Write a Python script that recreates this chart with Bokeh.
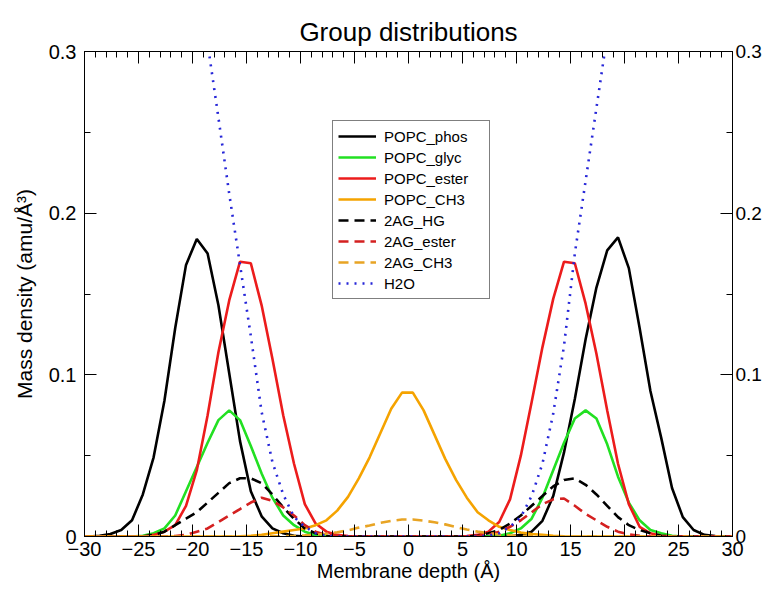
from bokeh.plotting import figure
from bokeh.models import LinearAxis, FixedTicker, Range1d, Legend, LegendItem
from bokeh.embed import file_html
from bokeh.resources import INLINE

# ---------------- data ----------------
depth = [-30.6, -29.6, -28.6, -27.6, -26.6, -25.6, -24.6, -23.6, -22.6, -21.6,
         -20.6, -19.6, -18.6, -17.6, -16.6, -15.6, -14.6, -13.6, -12.6, -11.6,
         -10.6, -9.6, -8.6, -7.6, -6.6, -5.6, -4.6, -3.6, -2.6, -1.6,
         -0.6, 0.4, 1.4, 2.4, 3.4, 4.4, 5.4, 6.4, 7.4, 8.4,
         9.4, 10.4, 11.4, 12.4, 13.4, 14.4, 15.4, 16.4, 17.4, 18.4,
         19.4, 20.4, 21.4, 22.4, 23.4, 24.4, 25.4, 26.4, 27.4, 28.4,
         29.4, 30.4]

popc_phos = [0, 0, 0.0005, 0.0015, 0.004, 0.010, 0.026, 0.049, 0.084, 0.129,
             0.168, 0.184, 0.175, 0.143, 0.101, 0.059, 0.028, 0.0125, 0.005, 0.002,
             0.0005, 0, 0, 0, 0, 0, 0, 0, 0, 0,
             0, 0, 0, 0, 0, 0, 0, 0, 0, 0,
             0, 0.001, 0.003, 0.0097, 0.025, 0.052, 0.085, 0.122, 0.154, 0.177,
             0.185, 0.166, 0.129, 0.090, 0.061, 0.030, 0.012, 0.004, 0.001, 0.0003,
             0, 0]

popc_glyc = [0, 0, 0, 0, 0, 0, 0.0005, 0.002, 0.005, 0.013,
             0.028, 0.043, 0.058, 0.072, 0.078, 0.072, 0.056, 0.039, 0.024, 0.013,
             0.007, 0.003, 0.001, 0.0003, 0, 0, 0, 0, 0, 0,
             0, 0, 0, 0, 0, 0, 0, 0, 0.0002, 0.0005,
             0.002, 0.005, 0.011, 0.024, 0.041, 0.058, 0.073, 0.078, 0.073, 0.057,
             0.037, 0.021, 0.010, 0.004, 0.002, 0.0005, 0, 0, 0, 0,
             0, 0]

popc_ester = [0, 0, 0, 0, 0, 0, 0, 0.001, 0.003, 0.007,
              0.019, 0.041, 0.075, 0.114, 0.146, 0.170, 0.169, 0.143, 0.110, 0.075,
              0.045, 0.020, 0.008, 0.003, 0.001, 0.0003, 0, 0, 0, 0,
              0, 0, 0, 0, 0, 0, 0.0003, 0.001, 0.003, 0.009,
              0.023, 0.050, 0.083, 0.117, 0.147, 0.170, 0.169, 0.144, 0.113, 0.078,
              0.045, 0.020, 0.006, 0.002, 0.0005, 0, 0, 0, 0, 0,
              0, 0]

popc_ch3 = [0, 0, 0, 0, 0, 0, 0, 0, 0, 0,
            0, 0, 0, 0, 0, 0.0002, 0.0005, 0.001, 0.002, 0.003,
            0.004, 0.005, 0.007, 0.010, 0.016, 0.0245, 0.036, 0.049, 0.064, 0.079,
            0.089, 0.089, 0.078, 0.063, 0.048, 0.035, 0.024, 0.015, 0.010, 0.006,
            0.004, 0.0025, 0.0015, 0.001, 0.0005, 0.0002, 0, 0, 0, 0,
            0, 0, 0, 0, 0, 0, 0, 0, 0, 0,
            0, 0]

ag_hg = [0, 0, 0, 0, 0, 0, 0, 0.001, 0.003, 0.007,
         0.011, 0.015, 0.021, 0.027, 0.033, 0.036, 0.036, 0.033, 0.026, 0.018,
         0.011, 0.005, 0.002, 0.0005, 0, 0, 0, 0, 0, 0,
         0, 0, 0, 0, 0, 0, 0, 0.0005, 0.002, 0.004,
         0.008, 0.013, 0.019, 0.025, 0.031, 0.035, 0.036, 0.032, 0.026, 0.019,
         0.012, 0.007, 0.004, 0.002, 0.0005, 0, 0, 0, 0, 0,
         0, 0]

ag_ester = [0, 0, 0, 0, 0, 0, 0, 0, 0, 0.0003,
            0.001, 0.003, 0.005, 0.009, 0.013, 0.017, 0.021, 0.024, 0.022, 0.018,
            0.013, 0.007, 0.003, 0.001, 0.0003, 0, 0, 0, 0, 0,
            0, 0, 0, 0, 0, 0, 0, 0.0003, 0.001, 0.003,
            0.006, 0.010, 0.015, 0.020, 0.023, 0.0235, 0.019, 0.014, 0.010, 0.006,
            0.003, 0.0013, 0.0004, 0, 0, 0, 0, 0, 0, 0,
            0, 0]

ag_ch3 = [0, 0, 0, 0, 0, 0, 0, 0, 0, 0,
          0, 0, 0, 0, 0, 0, 0, 0, 0.0001, 0.0002,
          0.0004, 0.0007, 0.0011, 0.0017, 0.0026, 0.0038, 0.0055, 0.0068, 0.0085, 0.0097,
          0.0105, 0.0105, 0.0098, 0.0088, 0.0075, 0.0058, 0.0043, 0.003, 0.002, 0.0012,
          0.0007, 0.0004, 0.0002, 0.0001, 0, 0, 0, 0, 0, 0,
          0, 0, 0, 0, 0, 0, 0, 0, 0, 0,
          0, 0]

h2o = [0.61, 0.61, 0.61, 0.61, 0.60, 0.59, 0.57, 0.54, 0.50, 0.45,
       0.40, 0.35, 0.305, 0.259, 0.212, 0.168, 0.124, 0.077, 0.046, 0.026,
       0.012, 0.006, 0.002, 0.0005, 0, 0, 0, 0, 0, 0,
       0, 0, 0, 0, 0, 0, 0, 0, 0.0005, 0.002,
       0.006, 0.012, 0.025, 0.045, 0.076, 0.118, 0.175, 0.220, 0.265, 0.31,
       0.355, 0.40, 0.45, 0.50, 0.54, 0.57, 0.59, 0.60, 0.61, 0.61,
       0.61, 0.61]

series_names = ["POPC_phos", "POPC_glyc", "POPC_ester", "POPC_CH3",
                "2AG_HG", "2AG_ester", "2AG_CH3", "H2O"]

x_tick_values = [-30, -25, -20, -15, -10, -5, 0, 5, 10, 15, 20, 25, 30]
x_tick_labels = ["\u221230", "\u221225", "\u221220", "\u221215", "\u221210", "\u22125",
                 "0", "5", "10", "15", "20", "25", "30"]
x_minor_ticks = list(range(-30, 31))
y_tick_values = [0, 0.1, 0.2, 0.3]
y_tick_labels = ["0", "0.1", "0.2", "0.3"]
y_minor_ticks = [0.05, 0.15, 0.25]

# ---------------- figure ----------------
FONT = "Liberation Sans"

p = figure(width=764, height=586,
           x_range=Range1d(-30, 30), y_range=Range1d(0, 0.3),
           output_backend="svg", toolbar_location=None,
           min_border_left=84, min_border_right=30,
           min_border_top=51, min_border_bottom=50,
           title="Group distributions")

p.title.text_font = FONT
p.title.text_font_size = "26px"
p.title.text_font_style = "normal"
p.title.align = "center"
p.title.text_color = "black"

p.grid.visible = False
p.outline_line_color = "black"
p.outline_line_width = 1
p.background_fill_color = "white"
p.border_fill_color = "white"

xover = dict(zip(x_tick_values, x_tick_labels))
yover = dict(zip(y_tick_values, y_tick_labels))


def style_axis(ax, labels=True):
    ax.axis_line_color = "black"
    ax.major_tick_line_color = "black"
    ax.minor_tick_line_color = "black"
    ax.major_tick_in = 12
    ax.major_tick_out = 0
    ax.minor_tick_in = 6
    ax.minor_tick_out = 0
    ax.major_label_text_font = FONT
    ax.major_label_text_color = "black"
    if labels:
        ax.major_label_text_font_size = "20px"
    else:
        ax.major_label_text_font_size = "0px"
        ax.major_label_text_color = None
    ax.axis_label_text_font = FONT
    ax.axis_label_text_font_style = "normal"
    ax.axis_label_text_font_size = "20px"
    ax.axis_label_text_color = "black"


def xticker():
    return FixedTicker(ticks=x_tick_values, minor_ticks=x_minor_ticks)


def yticker():
    return FixedTicker(ticks=y_tick_values, minor_ticks=y_minor_ticks)


# bottom
xb = p.xaxis[0]
xb.ticker = xticker()
xb.major_label_overrides = xover
xb.axis_label = "Membrane depth (\u00c5)"
style_axis(xb)
xb.major_label_standoff = 5
xb.axis_label_standoff = 1

# left
yl = p.yaxis[0]
yl.ticker = yticker()
yl.major_label_overrides = yover
yl.axis_label = "Mass density (amu/\u00c5\u00b3)"
style_axis(yl)
yl.axis_label_text_font_size = "21px"
yl.major_label_standoff = 8
yl.axis_label_standoff = 10

# top (ticks only)
xt = LinearAxis(ticker=xticker())
style_axis(xt, labels=False)
xt.major_label_standoff = 0
p.add_layout(xt, "above")

# right
yr = LinearAxis(ticker=yticker())
yr.major_label_overrides = yover
style_axis(yr)
yr.major_label_text_font_size = "19px"
yr.major_label_standoff = 3
p.add_layout(yr, "right")

# ---------------- lines ----------------
styles = [
    (popc_phos, "black", None),
    (popc_glyc, "#22e022", None),
    (popc_ester, "#ec1c1c", None),
    (popc_ch3, "#f5a300", None),
    (ag_hg, "black", "10 6"),
    (ag_ester, "#d42020", "10 6"),
    (ag_ch3, "#e8a424", "10 6"),
    (h2o, "#2626d8", "2 6"),
]

items = []
for name, (vals, color, dash) in zip(series_names, styles):
    kw = dict(line_color=color, line_width=2.6)
    if dash is not None:
        kw["line_dash"] = dash
    r = p.line(depth, vals, **kw)
    items.append(LegendItem(label=name, renderers=[r]))

legend = Legend(items=items, location=(248, 237))
legend.border_line_color = "black"
legend.border_line_width = 1
legend.background_fill_color = "white"
legend.background_fill_alpha = 1
legend.label_text_font = FONT
legend.label_text_font_size = "15px"
legend.label_text_color = "black"
legend.label_standoff = 8
legend.glyph_width = 38
legend.glyph_height = 20
legend.label_height = 20
legend.label_width = 100
legend.spacing = 1
legend.padding = 5
legend.margin = 0
p.add_layout(legend)

open("out.html", "w").write(file_html(p, INLINE))
